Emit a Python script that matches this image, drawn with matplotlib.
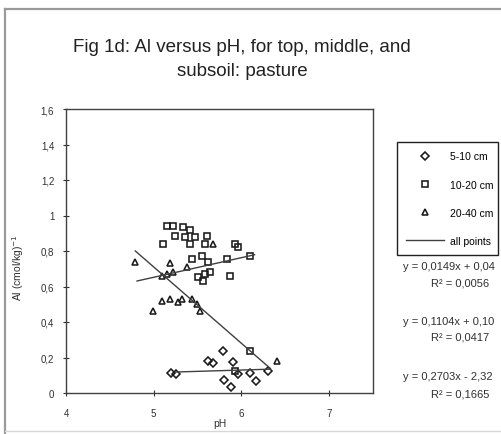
import matplotlib
matplotlib.use("Agg")
import matplotlib.pyplot as plt
from matplotlib.lines import Line2D
import numpy as np

plt.rcParams['font.family'] = ['Liberation Sans', 'DejaVu Sans']

W, H = 502, 435

# Soil pH and exchangeable Al, by sampling depth
ph_5_10 = [5.20, 5.25, 5.62, 5.68, 5.79, 5.90, 5.80, 5.88, 5.96, 6.10, 6.17, 6.30]
al_5_10 = [0.11, 0.105, 0.18, 0.17, 0.235, 0.175, 0.075, 0.035, 0.105, 0.115, 0.07, 0.125]

ph_10_20 = [5.15, 5.22, 5.33, 5.41, 5.24, 5.36, 5.47, 5.61, 5.11, 5.41, 5.58, 5.96,
            5.93, 6.10, 5.84, 5.87, 5.51, 5.58, 5.44, 5.55, 5.62, 5.64, 5.56, 6.10, 5.93]
al_10_20 = [0.94, 0.94, 0.935, 0.92, 0.885, 0.88, 0.88, 0.885, 0.84, 0.84, 0.84, 0.82,
            0.84, 0.77, 0.755, 0.66, 0.655, 0.67, 0.755, 0.77, 0.74, 0.68, 0.63, 0.237, 0.124]

ph_20_40 = [4.79, 4.99, 5.19, 5.68, 6.41, 5.09, 5.15, 5.22, 5.38, 5.09, 5.19, 5.28,
            5.32, 5.44, 5.49, 5.53]
al_20_40 = [0.74, 0.46, 0.735, 0.84, 0.18, 0.66, 0.67, 0.68, 0.71, 0.52, 0.53, 0.51,
            0.53, 0.53, 0.50, 0.46]

# Linear trend lines: slope, intercept, x-range
trend_slope = [0.0149, 0.1104, -0.43]
trend_icept = [0.04, 0.10, 2.86]
trend_x0 = [5.25, 4.81, 4.79]
trend_x1 = [6.33, 6.15, 6.33]

equations = ["y = 0,0149x + 0,04", "y = 0,1104x + 0,10", "y = 0,2703x - 2,32"]
r_squared = ["R² = 0,0056", "R² = 0,0417", "R² = 0,1665"]

series_labels = ["5-10 cm", "10-20 cm", "20-40 cm", "all points"]

x_ticks = [4, 5, 6, 7]
y_ticks = [0, 0.2, 0.4, 0.6, 0.8, 1.0, 1.2, 1.4, 1.6]
y_ticklabels = ["0", "0,2", "0,4", "0,6", "0,8", "1", "1,2", "1,4", "1,6"]


def fx(px):
    return px / W


def fy(py):
    return 1 - py / H


fig = plt.figure(figsize=(W / 100, H / 100), dpi=100)
fig.patch.set_facecolor('white')

# chart-area frame
fig.add_artist(Line2D([fx(5), 1.0], [fy(10), fy(10)], transform=fig.transFigure,
                      color='#9a9a9a', lw=1.6))
fig.add_artist(Line2D([fx(5), fx(5)], [fy(10), 0.0], transform=fig.transFigure,
                      color='#9a9a9a', lw=1.6))
fig.add_artist(Line2D([fx(5), 1.0], [fy(432), fy(432)], transform=fig.transFigure,
                      color='#d8d8d8', lw=1.0))

ax = fig.add_axes([fx(66), fy(394), fx(373) - fx(66), fy(110) - fy(394)])
ax.set_xlim(4, 7.5)
ax.set_ylim(0, 1.6)

mk = dict(ls='none', mfc='none', mec='#1a1a1a', mew=1.15, ms=4.5)
ax.plot(ph_5_10, al_5_10, marker='D', **dict(mk, ms=4))
ax.plot(ph_10_20, al_10_20, marker='s', **mk)
ax.plot(ph_20_40, al_20_40, marker='^', **mk)

for m, b, x0, x1 in zip(trend_slope, trend_icept, trend_x0, trend_x1):
    xs = np.array([x0, x1])
    ax.plot(xs, m * xs + b, color='#404040', lw=1.0)

ax.set_xticks(x_ticks)
ax.set_xticklabels([str(t) for t in x_ticks])
ax.set_yticks(y_ticks)
ax.set_yticklabels(y_ticklabels)
ax.tick_params(direction='inout', length=5, width=0.8, labelsize=7, colors='#303030')
ax.tick_params(axis='x', pad=8)
ax.tick_params(axis='y', pad=6)
for s in ax.spines.values():
    s.set_color('#404040')
    s.set_linewidth(1.0)

ax.set_xlabel("pH", fontsize=7.5, labelpad=0, color='#303030')
fig.text(fx(18), fy(268), "Al (cmol/kg)$^{-1}$", rotation=90, ha='center', va='center',
         fontsize=7.5, color='#303030')

# title
fig.text(fx(242), fy(48), "Fig 1d: Al versus pH, for top, middle, and",
         ha='center', va='center', fontsize=13.5, color='#222222')
fig.text(fx(242), fy(72), "subsoil: pasture",
         ha='center', va='center', fontsize=13.5, color='#222222')

# legend
handles = [
    Line2D([], [], marker='D', **dict(mk, ms=4)),
    Line2D([], [], marker='s', **mk),
    Line2D([], [], marker='^', **mk),
    Line2D([], [], color='#404040', lw=1.0),
]
leg = ax.legend(handles, series_labels, loc='upper left',
                bbox_to_anchor=(fx(397), fy(143), fx(498) - fx(397), 0.0),
                bbox_transform=fig.transFigure, mode='expand', fontsize=7.5,
                frameon=True, fancybox=False, edgecolor='#202020', framealpha=1,
                handlelength=3.6, handletextpad=0.6, labelspacing=1.75,
                borderpad=0.9, borderaxespad=0.0)
leg.get_frame().set_linewidth(1.0)

# trend equations
eq_y = [267, 322, 377]
r2_y = [283, 338, 395]
for e, r, ye, yr in zip(equations, r_squared, eq_y, r2_y):
    fig.text(fx(403), fy(ye), e, ha='left', va='center', fontsize=8, color='#303030')
    fig.text(fx(460), fy(yr), r, ha='center', va='center', fontsize=8, color='#303030')

fig.savefig("out.png", dpi=100)
